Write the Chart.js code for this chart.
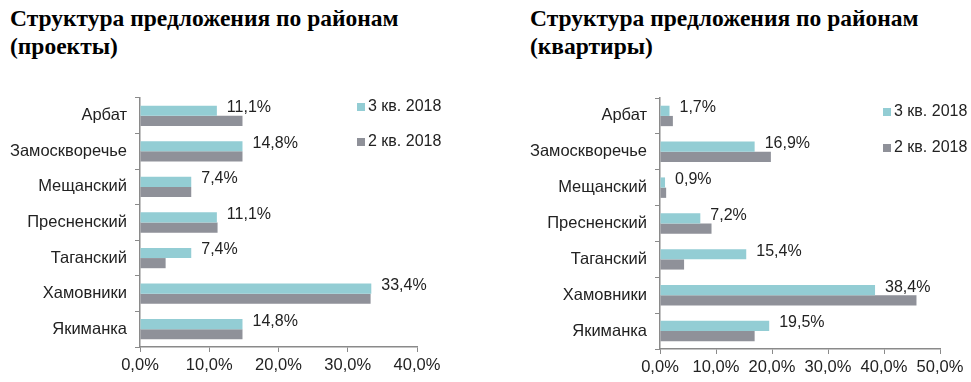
<!DOCTYPE html>
<html>
<head>
<meta charset="utf-8">
<script src="https://cdn.jsdelivr.net/npm/chart.js@4"></script>
<style>
  body { margin: 0; background: #fff; width: 971px; height: 382px; position: relative; overflow: hidden; }
  .title { position: absolute; font-family: "Liberation Serif", "Times New Roman", serif; font-weight: bold; font-size: 23.5px; line-height: 28px; color: #000; }
  .box { position: absolute; top: 0; height: 382px; }
</style>
</head>
<body>
<div class="title" style="left:10px; top:4px;">Структура предложения по районам<br>(проекты)</div>
<div class="title" style="left:530px; top:4px;">Структура предложения по районам<br>(квартиры)</div>
<div class="box" style="left:0; width:485px;"><canvas id="projectsChart"></canvas></div>
<div class="box" style="left:485px; width:486px;"><canvas id="flatsChart"></canvas></div>
<script>
const districts = ['Арбат', 'Замоскворечье', 'Мещанский', 'Пресненский', 'Таганский', 'Хамовники', 'Якиманка'];
const seriesNames = ['3 кв. 2018', '2 кв. 2018'];

// проекты, %
const projectsQ3 = [11.1, 14.8, 7.4, 11.1, 7.4, 33.4, 14.8];
const projectsQ2 = [14.8, 14.8, 7.4, 11.2, 3.7, 33.3, 14.8];

// квартиры, %
const flatsQ3 = [1.7, 16.9, 0.9, 7.2, 15.4, 38.4, 19.5];
const flatsQ2 = [2.3, 19.8, 1.1, 9.2, 4.3, 45.8, 16.9];

const tealColor = '#93cdd4';
const greyColor = '#8f9199';
const axisColor = '#8a8a8a';

const fmt = v => v.toFixed(1).replace('.', ',') + '%';

// value labels for the 3 кв. series + legend on the right
const extras = {
    id: 'extras',
    afterDatasetsDraw(chart, args, opts) {
        const ctx = chart.ctx;
        ctx.save();
        ctx.font = '16px "Liberation Sans", Arial, sans-serif';
        ctx.fillStyle = '#222';
        ctx.textBaseline = 'middle';
        ctx.textAlign = 'left';
        chart.getDatasetMeta(0).data.forEach((bar, i) => {
            ctx.fillText(fmt(chart.data.datasets[0].data[i]), bar.x + 10, bar.y - 3);
        });
        chart.data.datasets.forEach((ds, i) => {
            const y = opts.legendY + i * opts.legendGap;
            ctx.fillStyle = ds.backgroundColor;
            ctx.fillRect(opts.legendX, y - 4, 8, 8);
            ctx.fillStyle = '#222';
            ctx.fillText(ds.label, opts.legendX + 11, y);
        });
        ctx.restore();
    }
};

function makeChart(id, q3, q2, xMax, pad, xHeight, legend) {
    return new Chart(document.getElementById(id), {
        type: 'bar',
        data: {
            labels: districts,
            datasets: [
                { label: seriesNames[0], data: q3, backgroundColor: tealColor },
                { label: seriesNames[1], data: q2, backgroundColor: greyColor }
            ]
        },
        options: {
            indexAxis: 'y',
            responsive: true,
            maintainAspectRatio: false,
            animation: false,
            events: [],
            layout: { padding: { left: 0, top: pad.top, right: pad.right, bottom: 0 } },
            datasets: { bar: { categoryPercentage: 0.57, barPercentage: 1.0 } },
            plugins: {
                legend: { display: false },
                tooltip: { enabled: false },
                extras: legend
            },
            scales: {
                x: {
                    min: 0, max: xMax,
                    ticks: {
                        stepSize: 10, padding: 4, color: '#222',
                        font: { family: '"Liberation Sans", Arial, sans-serif', size: 16.5 },
                        callback: v => fmt(v)
                    },
                    grid: { drawOnChartArea: false, drawTicks: true, tickLength: 5, color: axisColor },
                    border: { color: axisColor, width: 1.5 },
                    afterFit: s => { s.height = xHeight; }
                },
                y: {
                    ticks: {
                        padding: 8, color: '#222',
                        font: { family: '"Liberation Sans", Arial, sans-serif', size: 16.5 }
                    },
                    grid: { drawOnChartArea: false, drawTicks: true, tickLength: 5, color: axisColor },
                    border: { color: axisColor, width: 1.5 },
                    afterFit: s => { s.width = pad.left; }
                }
            }
        },
        plugins: [extras]
    });
}

makeChart('projectsChart', projectsQ3, projectsQ2, 40,
    { left: 140, top: 98, right: 68 }, 35,
    { legendX: 357, legendY: 107, legendGap: 35 });

makeChart('flatsChart', flatsQ3, flatsQ2, 50,
    { left: 175, top: 98, right: 31 }, 33,
    { legendX: 398, legendY: 112, legendGap: 36 });
</script>
</body>
</html>
